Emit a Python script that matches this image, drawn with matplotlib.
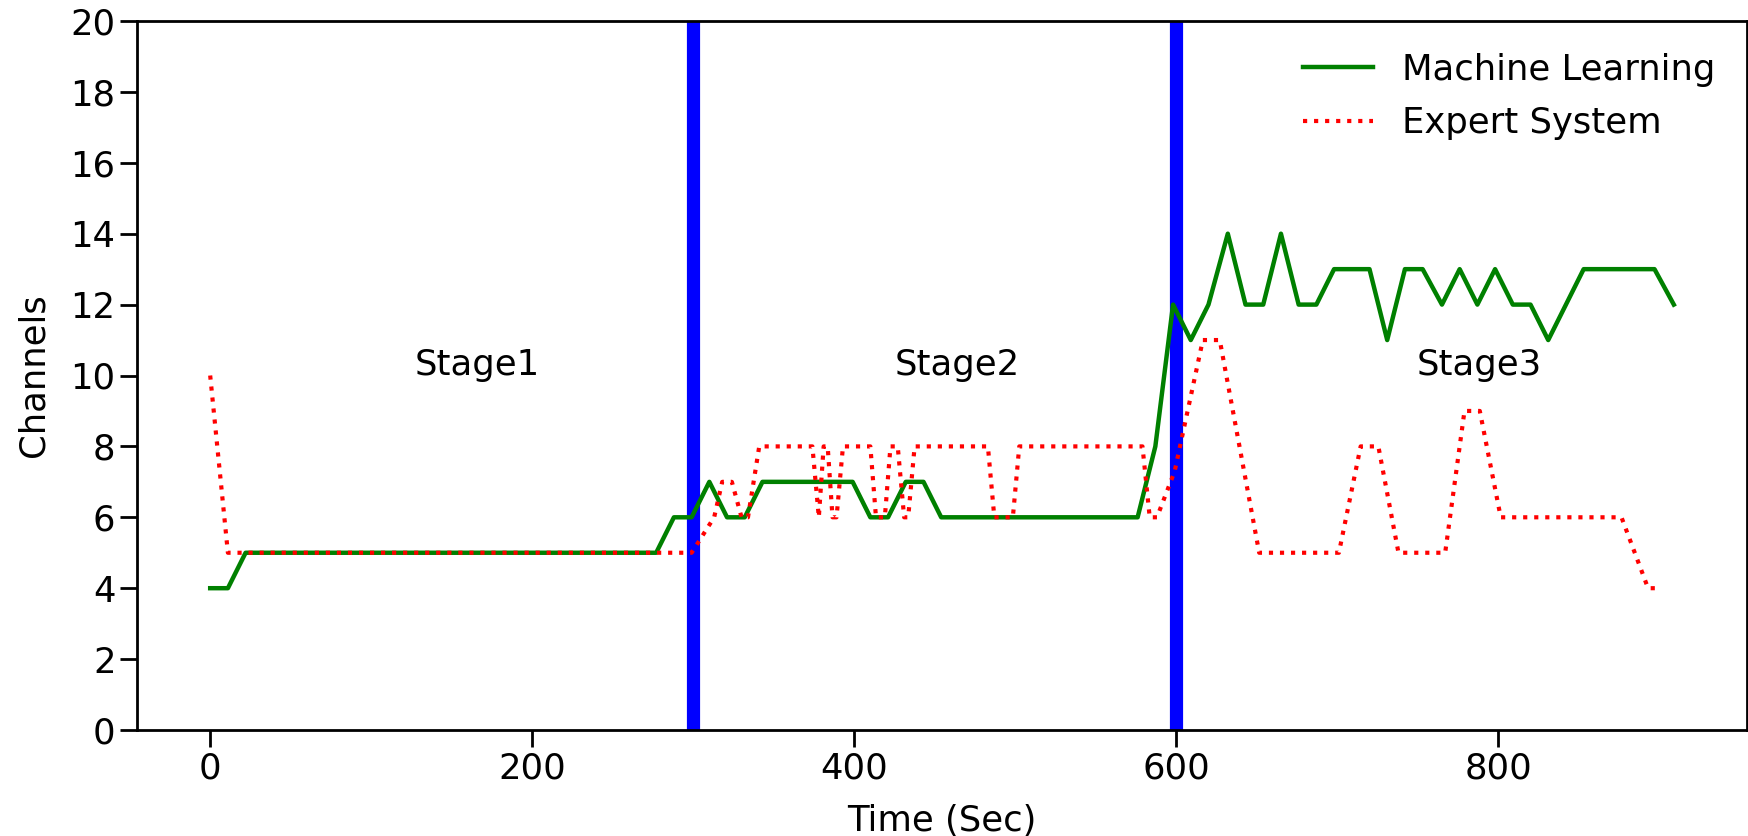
import matplotlib
matplotlib.use('Agg')
import matplotlib.pyplot as plt

# channel count per sampling instant
ml_time = [0, 11, 22, 33, 44, 55, 66, 78, 89, 100, 111, 122, 133, 144, 155, 166,
           177, 188, 199, 211, 222, 233, 244, 255, 266, 277, 288, 299, 310, 321,
           332, 343, 355, 366, 377, 388, 399, 410, 421, 432, 443, 454, 465, 476,
           488, 499, 510, 521, 532, 543, 554, 565, 576, 587, 598, 609, 620, 632,
           643, 654, 665, 676, 687, 698, 709, 720, 731, 742, 753, 765, 776, 787,
           798, 809, 820, 831, 842, 853, 864, 875, 886, 897, 909]
ml_channels = [4, 4, 5, 5, 5, 5, 5, 5, 5, 5, 5, 5, 5, 5, 5, 5,
               5, 5, 5, 5, 5, 5, 5, 5, 5, 5, 6, 6, 7, 6,
               6, 7, 7, 7, 7, 7, 7, 6, 6, 7, 7, 6, 6, 6,
               6, 6, 6, 6, 6, 6, 6, 6, 6, 8, 12, 11, 12, 14,
               12, 12, 14, 12, 12, 13, 13, 13, 11, 13, 13, 12, 13, 12,
               13, 12, 12, 11, 12, 13, 13, 13, 13, 13, 12]

es_time = [0, 11, 299, 313, 318, 324, 330, 334, 341, 374, 378, 381, 383.5,
           386.5, 389, 393, 410, 413.5, 419, 422.5, 427, 431, 433.5, 437.5,
           483, 487, 498.5, 502.5, 579, 583.5, 588, 599, 616.5, 627, 651.5,
           701, 714.5, 725.5, 738, 767, 779, 788.5, 801.5, 876.5, 893, 901]
es_channels = [10, 5, 5, 6, 7, 7, 6, 6, 8, 8, 6, 8, 8,
               6, 6, 8, 8, 6, 6, 8, 8, 6, 6, 8,
               8, 6, 6, 8, 8, 6, 6, 7.3, 11, 11, 5,
               5, 8, 8, 5, 5, 9, 9, 6, 6, 4, 4]

stage_names = ['Stage1', 'Stage2', 'Stage3']
stage_x = [166, 464, 788]
stage_bounds = [300, 600]

plt.rcParams['font.size'] = 25.5

fig = plt.figure(figsize=(17.48, 8.36), dpi=100)
ax = fig.add_axes([137 / 1748, 1 - 730 / 836, 1610 / 1748, 709 / 836])

for b in stage_bounds:
    ax.axvline(b, color='blue', linewidth=9.5)

ax.plot(ml_time, ml_channels, color='green', linewidth=3.2, label='Machine Learning')
ax.plot(es_time, es_channels, color='red', linestyle=':', linewidth=3, label='Expert System')

for name, x in zip(stage_names, stage_x):
    ax.text(x, 10.3, name, ha='center', va='center')

ax.set_xlim(-45.45, 954.45)
ax.set_ylim(0, 20)
ax.set_yticks(range(0, 21, 2))
ax.set_xticks([0, 200, 400, 600, 800])
ax.set_xlabel('Time (Sec)', labelpad=13)
ax.set_ylabel('Channels', labelpad=14)
ax.tick_params(length=12, width=2)
for s in ax.spines.values():
    s.set_linewidth(2)
ax.legend(loc='upper right', frameon=False, labelspacing=0.55)

fig.savefig('out.png', dpi=100)
